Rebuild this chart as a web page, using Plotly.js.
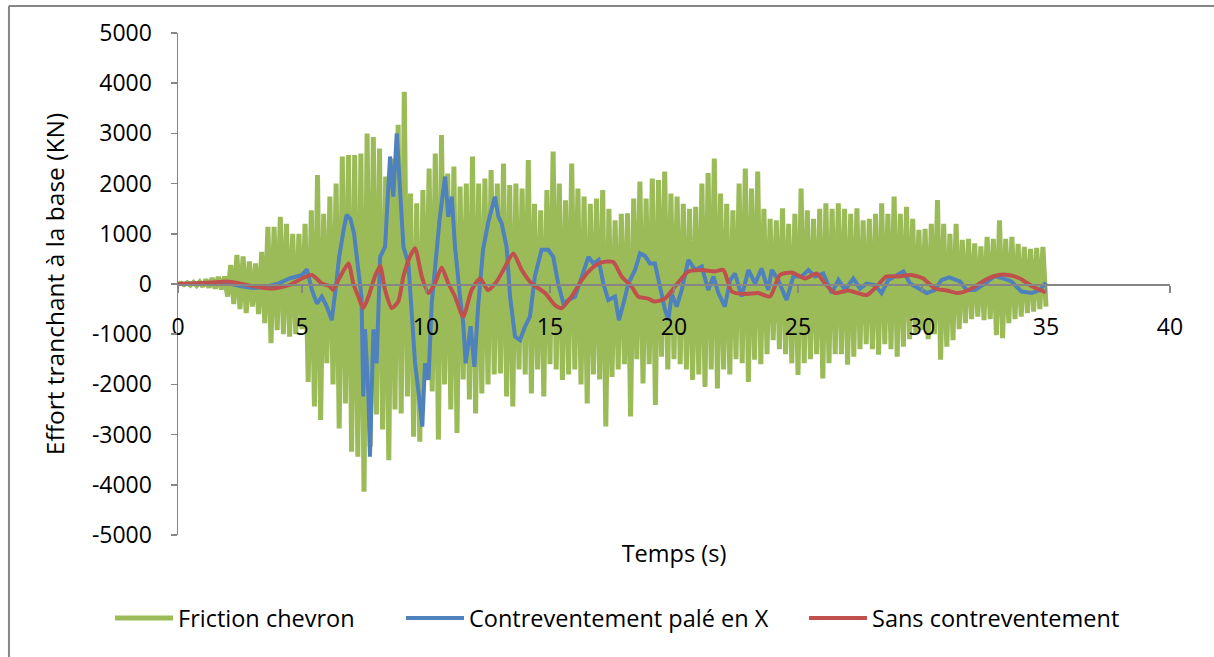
<!DOCTYPE html>
<html>
<head>
<meta charset="utf-8">
<script src="https://cdn.plot.ly/plotly-3.0.1.min.js"></script>
<style>
  html, body { margin:0; padding:0; background:#fff; }
  #chart { width:1214px; height:657px; }
</style>
</head>
<body>
<div id="chart"></div>
<script>
// ---- Data ----
const seriesNames = ["Friction chevron", "Contreventement palé en X", "Sans contreventement"];

// Friction chevron: samples every 0.125 s (one row per second)
const frictionStep = 0.125;
const frictionValues = [
  0, 15, -15, 25, -25, 30, -30, 40,
  -50, 90, -70, 120, -90, 140, -110, 150,
  -250, 380, -400, 580, -500, 550, -580, 450,
  -450, 410, -600, 640, -780, 1140, -1180, 1140,
  -920, 1340, -1000, 1200, -1050, 1000, -1000, 1000,
  -900, 1200, -1950, 1470, -2440, 2170, -2710, 1400,
  -1580, 1740, -2000, 2000, -2880, 2540, -2380, 2570,
  -3340, 2570, -3440, 2600, -4140, 3000, -3240, 2930,
  -2600, 2700, -2900, 2140, -3510, 2500, -2500, 3170,
  -2580, 3830, -2240, 1800, -3040, 1610, -3140, 1870,
  -1800, 2300, -2140, 2600, -3100, 2970, -2000, 2200,
  -2500, 2340, -2970, 1940, -1900, 2000, -2300, 2540,
  -2580, 2000, -2180, 2100, -2000, 2270, -1800, 2000,
  -1780, 2400, -2240, 1970, -2440, 2000, -1700, 1900,
  -1800, 2470, -2180, 1600, -1700, 1470, -2240, 1870,
  -1600, 2640, -1700, 2000, -1910, 1670, -1800, 2400,
  -1700, 1900, -2000, 1740, -2380, 1600, -1800, 1700,
  -1900, 1870, -2840, 1500, -1850, 1270, -1700, 1400,
  -1600, 1410, -2640, 1700, -1500, 2040, -1980, 1700,
  -1600, 2100, -2410, 2070, -1450, 2240, -1700, 1800,
  -1500, 1740, -1600, 1600, -1700, 1500, -1910, 1540,
  -1800, 2000, -2050, 2210, -1700, 2500, -2080, 1800,
  -1700, 1600, -1800, 1470, -1500, 2000, -1580, 2300,
  -1950, 1900, -1510, 2240, -1600, 1500, -1400, 1300,
  -1120, 1270, -1300, 1510, -1400, 1200, -1580, 1400,
  -1810, 1900, -1580, 1470, -1500, 1300, -1400, 1500,
  -1880, 1610, -1580, 1500, -1400, 1610, -1400, 1500,
  -1610, 1400, -1450, 1510, -1300, 1270, -1200, 1300,
  -1300, 1400, -1410, 1610, -1200, 1400, -1300, 1740,
  -1450, 1400, -1250, 1540, -1100, 1300, -1000, 1080,
  -920, 1100, -1100, 1200, -1000, 1670, -1510, 1200,
  -1250, 1000, -1120, 1200, -900, 880, -780, 900,
  -700, 810, -650, 750, -720, 940, -700, 900,
  -1020, 1270, -1080, 900, -780, 940, -700, 800,
  -650, 740, -580, 700, -550, 720, -500, 740,
  -450
];

// Contreventement palé en X
const bracedTime = [0, 1.0, 2.0, 2.5, 3.0, 3.5, 4.0, 4.5, 5.0, 5.2, 5.4, 5.6, 5.8, 6.0, 6.2, 6.35, 6.5, 6.7, 6.8, 6.95,
  7.1, 7.27, 7.4, 7.47, 7.54, 7.68, 7.74, 7.88, 8.01, 8.15, 8.35, 8.55, 8.68, 8.82, 8.95, 9.09, 9.29, 9.42, 9.56, 9.72,
  9.85, 9.96, 10.1, 10.23, 10.39, 10.56, 10.77, 10.9, 11.04, 11.17, 11.37, 11.5, 11.6, 11.8, 11.95, 12.1, 12.3, 12.5, 12.78, 12.92,
  13.05, 13.25, 13.39, 13.59, 13.79, 13.99, 14.19, 14.39, 14.66, 14.93, 15.13, 15.33, 15.54, 15.74, 16.01, 16.28, 16.55, 16.75, 16.96, 17.15,
  17.35, 17.62, 17.78, 17.96, 18.16, 18.43, 18.63, 18.83, 19.03, 19.23, 19.43, 19.64, 19.77, 19.91, 20.11, 20.31, 20.58, 20.85, 21.12, 21.38,
  21.59, 21.79, 22.05, 22.26, 22.46, 22.73, 23.0, 23.27, 23.53, 23.8, 23.94, 24.2, 24.54, 24.81, 25.15, 25.42, 25.69, 26.02, 26.36, 26.63,
  26.9, 27.23, 27.5, 27.77, 28.1, 28.37, 28.64, 28.91, 29.25, 29.52, 29.85, 30.19, 30.52, 30.79, 31.1, 31.53, 31.8, 32.14, 32.54, 32.94,
  33.28, 33.61, 34.01, 34.42, 34.75, 35.0];
const bracedValues = [0, 10, 20, -40, -80, -60, 0, 110, 180, 290, -120, -390, -250, -450, -720, -120, 540, 1140, 1375, 1300,
  1000, 280, -250, -2240, -900, -2240, -3440, -900, -1580, 540, 740, 2540, 1740, 3000, 1740, 740, 410, -580, -1580, -2240,
  -2840, -1580, -1910, -390, 410, 1340, 2140, 1340, 1740, 740, -250, -780, -1580, -840, -1650, -460, 680, 1210, 1740, 1340,
  1210, 740, -250, -1050, -1120, -850, -650, 150, 680, 680, 540, 10, -390, -320, -250, 150, 540, 410, 480, 10,
  -320, -250, -720, -390, 10, 280, 610, 560, 410, 410, -70, -520, -720, -200, -450, -120, 480, 280, 350, -120,
  150, -180, -450, 80, 210, -250, 280, 10, 310, -120, 280, 80, -320, 150, 150, 280, 150, 210, -180, 80,
  -120, 110, -90, 10, -20, -180, 80, 150, 250, 10, -90, -180, -120, 80, 130, 50, -120, -120, 10, 160,
  110, 50, -150, -180, -120, 30];

// Sans contreventement
const unbracedTime = [0, 1.0, 1.7, 2.0, 2.5, 3.0, 3.7, 4.2, 4.5, 5.0, 5.4, 5.8, 6.1, 6.25, 6.5, 6.87, 7.07, 7.27, 7.47, 7.68,
  7.94, 8.15, 8.35, 8.62, 8.88, 9.09, 9.35, 9.56, 9.83, 10.1, 10.36, 10.63, 10.9, 11.17, 11.5, 11.84, 12.18, 12.5, 12.85, 13.12,
  13.52, 13.86, 14.26, 14.8, 15.2, 15.47, 15.87, 16.28, 16.68, 17.08, 17.55, 17.89, 18.29, 18.56, 18.96, 19.2, 19.64, 20.04, 20.58, 21.12,
  21.65, 21.99, 22.33, 22.86, 23.4, 23.87, 24.27, 24.74, 25.28, 25.75, 26.09, 26.49, 27.03, 27.77, 28.17, 28.57, 29.05, 29.58, 30.05, 30.52,
  31.0, 31.46, 32.0, 32.54, 33.08, 33.48, 33.95, 34.46, 35.0];
const unbracedValues = [0, 20, 40, 50, 10, -40, -90, -60, -20, 110, 180, 10, -40, -120, 110, 410, 10, -250, -480, -250,
  150, 360, -120, -480, -350, 150, 540, 710, 150, -180, 10, 330, 10, -250, -650, -120, 110, -120, 50, 280,
  610, 280, 10, -180, -420, -480, -250, 80, 310, 430, 440, 150, -50, -250, -290, -350, -290, -50, 250, 280,
  250, 280, -150, -200, -180, -250, 180, 230, 110, 210, 10, -180, -130, -220, -50, 150, 150, 180, 110, -90,
  -130, -180, -90, 80, 180, 180, 110, -50, -170];

const xTickVals = [0, 5, 10, 15, 20, 25, 30, 35, 40];
const yTickVals = [-5000, -4000, -3000, -2000, -1000, 0, 1000, 2000, 3000, 4000, 5000];

// ---- Build ----
const frictionTime = frictionValues.map((v, i) => +(i * frictionStep).toFixed(3));

const traces = [
  {x: frictionTime, y: frictionValues, name: seriesNames[0], type: 'scatter', mode: 'lines',
   line: {color: '#9BBB59', width: 5}, hoverinfo: 'skip', legend: 'legend'},
  {x: bracedTime, y: bracedValues, name: seriesNames[1], type: 'scatter', mode: 'lines',
   line: {color: '#4F81BD', width: 4}, hoverinfo: 'skip', legend: 'legend2'},
  {x: unbracedTime, y: unbracedValues, name: seriesNames[2], type: 'scatter', mode: 'lines',
   line: {color: '#C0504D', width: 4, shape: 'spline', smoothing: 0.6}, hoverinfo: 'skip', legend: 'legend3'}
];

const axisGrey = '#868686';
const legendBase = {orientation: 'h', xref: 'container', yref: 'container', xanchor: 'left',
  y: 0.059, yanchor: 'middle', font: {size: 23.5, color: '#000'}, itemwidth: 58,
  bgcolor: 'rgba(0,0,0,0)'};

const layout = {
  width: 1214, height: 657,
  margin: {l: 178, r: 44, t: 33, b: 122, pad: 0},
  paper_bgcolor: '#ffffff', plot_bgcolor: '#ffffff',
  font: {family: 'Open Sans, sans-serif', size: 23, color: '#000000'},
  showlegend: true,
  legend: Object.assign({}, legendBase, {x: 110 / 1214}),
  legend2: Object.assign({}, legendBase, {x: 401 / 1214}),
  legend3: Object.assign({}, legendBase, {x: 804 / 1214}),
  xaxis: {range: [0, 40], anchor: 'free', position: 0.5,
          tickmode: 'array', tickvals: xTickVals, ticktext: xTickVals.map(String),
          showline: true, linecolor: axisGrey, linewidth: 1.5, ticks: 'outside', ticklen: 7,
          tickcolor: axisGrey, tickwidth: 1.5, showgrid: false, zeroline: false, ticklabelstandoff: 15,
          tickfont: {size: 23},
          title: {text: 'Temps (s)', standoff: 204, font: {size: 23.5}}},
  yaxis: {range: [-5000, 5000], tickmode: 'array', tickvals: yTickVals, ticktext: yTickVals.map(String),
          showline: true, linecolor: axisGrey, linewidth: 1.5, ticks: 'outside', ticklen: 6,
          tickcolor: axisGrey, tickwidth: 1.5, showgrid: false, zeroline: false, ticklabelstandoff: 14,
          tickfont: {size: 23},
          title: {text: 'Effort tranchant à la base (KN)', standoff: 20, font: {size: 24.5}}},
  shapes: [
    {type: 'line', xref: 'paper', yref: 'paper', x0: -0.1704, x1: 1.06, y0: 1.0538, y1: 1.0538,
     line: {color: axisGrey, width: 2}},
    {type: 'line', xref: 'paper', yref: 'paper', x0: -0.1704, x1: -0.1704, y0: 1.0538, y1: -0.26,
     line: {color: axisGrey, width: 2}}
  ]
};

Plotly.newPlot('chart', traces, layout, {displayModeBar: false, staticPlot: true});
</script>
</body>
</html>
